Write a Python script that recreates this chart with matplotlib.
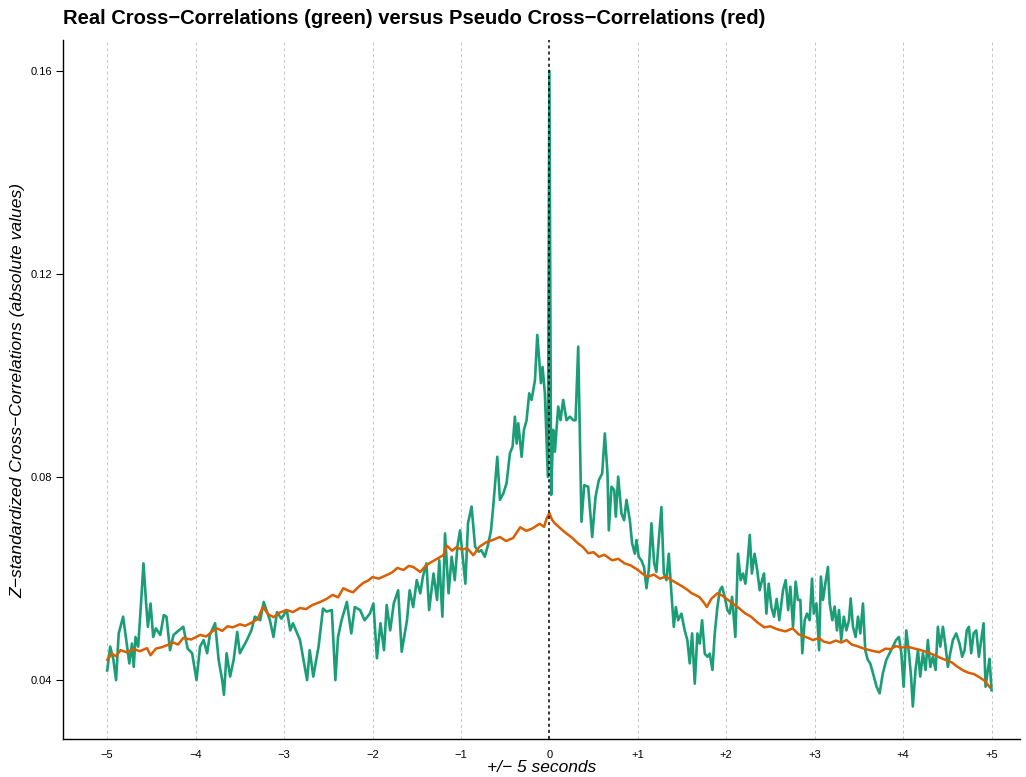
import matplotlib
matplotlib.use("Agg")
import matplotlib.pyplot as plt

plt.rcParams['font.family'] = ['Liberation Sans', 'DejaVu Sans']

# Real cross-correlations (green), lag in seconds
green_t = [
    -5.00, -4.966, -4.93, -4.90, -4.87, -4.82, -4.78, -4.75, -4.72, -4.70, -4.68, -4.65,
    -4.62, -4.59, -4.56, -4.54, -4.51, -4.48, -4.45, -4.40, -4.36, -4.33, -4.29, -4.25,
    -4.19, -4.14, -4.09, -4.04, -3.99, -3.95, -3.91, -3.87, -3.84, -3.78, -3.74, -3.70,
    -3.68, -3.65, -3.61, -3.57, -3.53, -3.50, -3.42, -3.37, -3.33, -3.27, -3.23, -3.20,
    -3.16, -3.12, -3.08, -3.03, -2.97, -2.93, -2.90, -2.82, -2.78, -2.74, -2.71, -2.67,
    -2.61, -2.56, -2.52, -2.46, -2.42, -2.39, -2.35, -2.29, -2.24, -2.20, -2.14, -2.09,
    -2.03, -1.99, -1.95, -1.91, -1.87, -1.84, -1.80, -1.76, -1.71, -1.67, -1.61, -1.58,
    -1.54, -1.50, -1.46, -1.43, -1.39, -1.36, -1.31, -1.27, -1.245, -1.21, -1.18, -1.14,
    -1.105, -1.07, -1.04, -1.01, -0.98, -0.95, -0.92, -0.88, -0.84, -0.80, -0.77, -0.73,
    -0.69, -0.66, -0.635, -0.589, -0.559, -0.52, -0.484, -0.446, -0.416, -0.39, -0.37,
    -0.352, -0.314, -0.288, -0.258, -0.228, -0.201, -0.163, -0.137, -0.115, -0.096,
    -0.077, -0.051, -0.017, 0.00, 0.02, 0.043, 0.062, 0.10, 0.126, 0.156, 0.194, 0.232,
    0.27, 0.296, 0.326, 0.363, 0.394, 0.439, 0.484, 0.522, 0.559, 0.597, 0.627, 0.657,
    0.672, 0.702, 0.733, 0.751, 0.778, 0.815, 0.845, 0.872, 0.91, 0.936, 0.966, 0.985,
    1.01, 1.04, 1.07, 1.098, 1.124, 1.154, 1.185, 1.21, 1.237, 1.267, 1.294, 1.324,
    1.35, 1.38, 1.407, 1.43, 1.456, 1.493, 1.53, 1.56, 1.587, 1.614, 1.644, 1.674, 1.70,
    1.727, 1.757, 1.787, 1.813, 1.844, 1.87, 1.90, 1.927, 1.953, 1.983, 2.013, 2.04,
    2.066, 2.088, 2.103, 2.133, 2.163, 2.19, 2.216, 2.24, 2.266, 2.29, 2.32, 2.35,
    2.378, 2.405, 2.427, 2.454, 2.48, 2.51, 2.54, 2.57, 2.60, 2.642, 2.672, 2.70, 2.725,
    2.755, 2.785, 2.81, 2.838, 2.86, 2.887, 2.913, 2.943, 2.97, 2.99, 3.02, 3.05, 3.07,
    3.094, 3.12, 3.15, 3.17, 3.20, 3.226, 3.252, 3.275, 3.30, 3.33, 3.358, 3.388, 3.407,
    3.433, 3.463, 3.49, 3.516, 3.546, 3.572, 3.60, 3.628, 3.66, 3.70, 3.734, 3.77, 3.81,
    3.848, 3.885, 3.92, 3.953, 3.98, 4.006, 4.036, 4.066, 4.09, 4.11, 4.14, 4.168, 4.194,
    4.224, 4.254, 4.28, 4.307, 4.337, 4.367, 4.393, 4.42, 4.45, 4.48, 4.506, 4.533,
    4.563, 4.60, 4.638, 4.668, 4.695, 4.72, 4.744, 4.77, 4.797, 4.827, 4.857, 4.883,
    4.91, 4.932, 4.958, 4.977, 5.00,
]
green_v = [
    0.0419, 0.0466, 0.0440, 0.0400, 0.0492, 0.0525, 0.0472, 0.0433, 0.0472, 0.0426, 0.0485, 0.0466,
    0.0545, 0.0630, 0.0551, 0.0505, 0.0551, 0.0485, 0.0502, 0.0489, 0.0528, 0.0525, 0.0459, 0.0489,
    0.0498, 0.0505, 0.0462, 0.0453, 0.0400, 0.0466, 0.0479, 0.0453, 0.0489, 0.0512, 0.0440, 0.0400,
    0.0371, 0.0453, 0.0407, 0.0440, 0.0495, 0.0453, 0.0479, 0.0498, 0.0525, 0.0518, 0.0554, 0.0538,
    0.0518, 0.0485, 0.0534, 0.0521, 0.0538, 0.0498, 0.0512, 0.0479, 0.0440, 0.0400, 0.0459, 0.0407,
    0.0466, 0.0541, 0.0535, 0.0538, 0.0400, 0.0485, 0.0518, 0.0554, 0.0492, 0.0544, 0.0538, 0.0518,
    0.0531, 0.0551, 0.0443, 0.0512, 0.0459, 0.0548, 0.0498, 0.0551, 0.0577, 0.0456, 0.0518, 0.0577,
    0.0544, 0.0597, 0.0571, 0.0604, 0.0630, 0.0538, 0.0610, 0.0558, 0.0636, 0.0525, 0.0689, 0.0571,
    0.0643, 0.0597, 0.0663, 0.0695, 0.0643, 0.0590, 0.0709, 0.0742, 0.0663, 0.0653, 0.0656, 0.0643,
    0.0669, 0.0695, 0.0742, 0.0840, 0.0755, 0.0768, 0.0788, 0.0847, 0.0860, 0.0919, 0.0866,
    0.0906, 0.0840, 0.0893, 0.0912, 0.0965, 0.0952, 0.0991, 0.1080, 0.1031, 0.0985,
    0.1017, 0.0965, 0.0800, 0.1600, 0.0765, 0.0893, 0.0850, 0.0939, 0.0912, 0.0952, 0.0912, 0.0919,
    0.0912, 0.0912, 0.1057, 0.0712, 0.0784, 0.0781, 0.0682, 0.0761, 0.0794, 0.0807, 0.0886, 0.0807,
    0.0695, 0.0781, 0.0774, 0.0722, 0.0801, 0.0728, 0.0715, 0.0755, 0.0715, 0.0669, 0.0649, 0.0676,
    0.0643, 0.0636, 0.0623, 0.0581, 0.0617, 0.0709, 0.0630, 0.0613, 0.0676, 0.0741, 0.0610, 0.0597,
    0.0649, 0.0571, 0.0505, 0.0544, 0.0518, 0.0531, 0.0498, 0.0479, 0.0433, 0.0492, 0.0393, 0.0492, 0.0472,
    0.0518, 0.0452, 0.0446, 0.0452, 0.0420, 0.0492, 0.0544, 0.0577, 0.0584, 0.0564, 0.0538, 0.0531,
    0.0564, 0.0518, 0.0485, 0.0649, 0.0597, 0.0610, 0.0590, 0.0630, 0.0686, 0.0610, 0.0649, 0.0617,
    0.0577, 0.0597, 0.0610, 0.0531, 0.0590, 0.0544, 0.0525, 0.0560, 0.0518, 0.0577, 0.0597, 0.0538, 0.0584,
    0.0505, 0.0594, 0.0558, 0.0558, 0.0453, 0.0518, 0.0531, 0.0518, 0.0600, 0.0531, 0.0551, 0.0459, 0.0604,
    0.0558, 0.0590, 0.0623, 0.0551, 0.0518, 0.0545, 0.0498, 0.0538, 0.0479, 0.0525, 0.0498, 0.0518, 0.0561,
    0.0505, 0.0485, 0.0525, 0.0492, 0.0551, 0.0459, 0.0440, 0.0433, 0.0413, 0.0387, 0.0374, 0.0413, 0.0440,
    0.0453, 0.0466, 0.0479, 0.0485, 0.0453, 0.0387, 0.0498, 0.0453, 0.0407, 0.0348, 0.0420, 0.0459, 0.0407,
    0.0453, 0.0420, 0.0479, 0.0426, 0.0446, 0.0420, 0.0505, 0.0466, 0.0505, 0.0466, 0.0426, 0.0453,
    0.0479, 0.0492, 0.0472, 0.0446, 0.0459, 0.0498, 0.0505, 0.0453, 0.0492, 0.0498, 0.0446, 0.0479,
    0.0512, 0.0387, 0.0420, 0.0442, 0.0380,
]

# Pseudo cross-correlations (red)
red_t = [
    -5.00, -4.95, -4.90, -4.85, -4.78, -4.70, -4.63, -4.55, -4.51, -4.45, -4.38, -4.32,
    -4.25, -4.20, -4.14, -4.05, -3.95, -3.88, -3.82, -3.76, -3.70, -3.64, -3.58, -3.50,
    -3.44, -3.38, -3.30, -3.24, -3.18, -3.12, -3.05, -2.97, -2.90, -2.82, -2.75, -2.68,
    -2.59, -2.52, -2.45, -2.39, -2.33, -2.27, -2.22, -2.15, -2.10, -2.05, -2.00, -1.93,
    -1.84, -1.78, -1.72, -1.65, -1.59, -1.54, -1.46, -1.40, -1.35, -1.28, -1.20, -1.16,
    -1.10, -1.05, -0.99, -0.93, -0.86, -0.79, -0.71, -0.64, -0.56, -0.49, -0.41, -0.33,
    -0.26, -0.19, -0.11, -0.06, -0.03, 0.00, 0.03, 0.06, 0.10, 0.15, 0.20, 0.26, 0.32,
    0.38, 0.44, 0.50, 0.56, 0.62, 0.71, 0.78, 0.85, 0.92, 1.00, 1.05, 1.11, 1.18, 1.25,
    1.32, 1.38, 1.45, 1.50, 1.56, 1.61, 1.66, 1.70, 1.75, 1.78, 1.83, 1.90, 1.96, 2.02,
    2.08, 2.15, 2.21, 2.28, 2.35, 2.43, 2.50, 2.55, 2.60, 2.67, 2.75, 2.82, 2.90, 2.98,
    3.05, 3.10, 3.17, 3.24, 3.30, 3.36, 3.42, 3.48, 3.54, 3.60, 3.67, 3.73, 3.80, 3.86,
    3.92, 3.98, 4.05, 4.11, 4.18, 4.24, 4.30, 4.36, 4.42, 4.49, 4.55, 4.61, 4.67, 4.73,
    4.80, 4.86, 4.92, 4.98,
]
red_v = [
    0.0440, 0.0452, 0.0447, 0.0459, 0.0455, 0.0461, 0.0457, 0.0463, 0.0449, 0.0462, 0.0465, 0.0469,
    0.0474, 0.0470, 0.0483, 0.0480, 0.0489, 0.0486, 0.0495, 0.0502, 0.0497, 0.0506, 0.0504, 0.0510,
    0.0507, 0.0512, 0.0520, 0.0544, 0.0530, 0.0524, 0.0533, 0.0538, 0.0534, 0.0542, 0.0540, 0.0548,
    0.0554, 0.0560, 0.0568, 0.0563, 0.0581, 0.0576, 0.0573, 0.0585, 0.0592, 0.0596, 0.0603, 0.0600,
    0.0607, 0.0612, 0.0621, 0.0617, 0.0625, 0.0623, 0.0613, 0.0625, 0.0631, 0.0638, 0.0646, 0.0665,
    0.0655, 0.0662, 0.0657, 0.0660, 0.0646, 0.0663, 0.0672, 0.0676, 0.0682, 0.0674, 0.0680, 0.0701,
    0.0694, 0.0699, 0.0708, 0.0702, 0.0719, 0.0729, 0.0716, 0.0709, 0.0703, 0.0695, 0.0688, 0.0680, 0.0670,
    0.0662, 0.0650, 0.0652, 0.0643, 0.0647, 0.0636, 0.0639, 0.0630, 0.0626, 0.0617, 0.0610, 0.0603, 0.0608, 0.0600,
    0.0604, 0.0597, 0.0590, 0.0585, 0.0578, 0.0571, 0.0567, 0.0563, 0.0552, 0.0544, 0.0560, 0.0571, 0.0566, 0.0558,
    0.0550, 0.0541, 0.0532, 0.0525, 0.0514, 0.0504, 0.0506, 0.0502, 0.0499, 0.0496, 0.0502, 0.0490, 0.0485, 0.0479,
    0.0483, 0.0476, 0.0473, 0.0478, 0.0474, 0.0479, 0.0470, 0.0467, 0.0463, 0.0460, 0.0457, 0.0455, 0.0462, 0.0461,
    0.0467, 0.0464, 0.0466, 0.0463, 0.0460, 0.0457, 0.0453, 0.0449, 0.0444, 0.0439, 0.0435, 0.0427, 0.0420, 0.0415,
    0.0412, 0.0406, 0.0399, 0.0386,
]

x_ticks = [-5, -4, -3, -2, -1, 0, 1, 2, 3, 4, 5]
x_tick_labels = ['\u22125', '\u22124', '\u22123', '\u22122', '\u22121', '0',
                 '+1', '+2', '+3', '+4', '+5']
y_ticks = [0.04, 0.08, 0.12, 0.16]
y_tick_labels = ['0.04', '0.08', '0.12', '0.16']

GREEN = '#1b9e77'
RED = '#d95f02'

fig = plt.figure(figsize=(10.26, 7.77), dpi=100)
ax = fig.add_axes([0.0614, 0.0489, 0.9326, 0.8996])

# integer-second guides
for xt in x_ticks:
    if xt == 0:
        continue
    ax.axvline(xt, color='#c4c4c4', lw=0.7, ls=(0, (3, 3)), zorder=1)

ax.plot(green_t, green_v, color=GREEN, lw=1.9, zorder=2, solid_joinstyle='round')
ax.plot(red_t, red_v, color=RED, lw=1.8, zorder=3, solid_joinstyle='round')
ax.axvline(0, color='black', lw=1.1, ls=(0, (2, 2)), zorder=4)

ax.set_xlim(-5.50, 5.32)
ax.set_ylim(0.0284, 0.1661)

ax.set_xticks(x_ticks)
ax.set_xticklabels(x_tick_labels, fontsize=8)
ax.set_yticks(y_ticks)
ax.set_yticklabels(y_tick_labels, fontsize=8)
ax.tick_params(axis='x', length=0, pad=8)
ax.tick_params(axis='y', length=5, width=0.8, pad=3, direction='out')

for side in ('top', 'right'):
    ax.spines[side].set_visible(False)
for side in ('left', 'bottom'):
    ax.spines[side].set_linewidth(1.0)

ax.set_xlabel('+/\u2212 5 seconds', fontsize=12.5, style='italic', labelpad=0)
fig.text(0.0175, 0.498,
         'Z\u2212standardized Cross\u2212Correlations (absolute values)',
         fontsize=12.6, style='italic', rotation=90, ha='center', va='center')

fig.text(0.0614, 0.988,
         'Real Cross\u2212Correlations (green) versus Pseudo Cross\u2212Correlations (red)',
         fontsize=14.5, fontweight='bold', ha='left', va='top')

fig.savefig('out.png', dpi=100)
